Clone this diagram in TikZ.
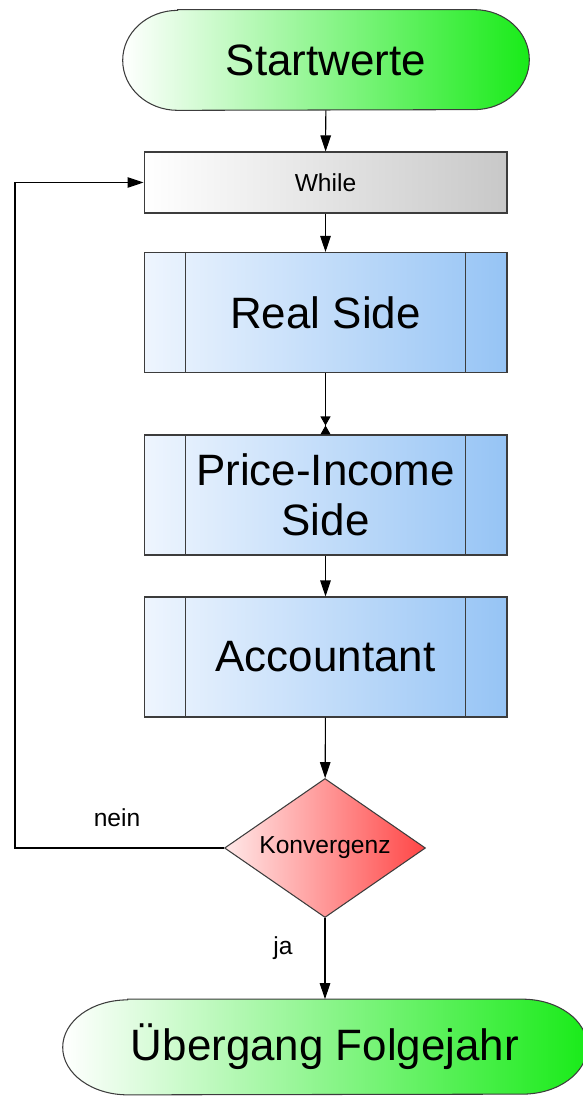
\documentclass[tikz,border=0pt]{standalone}
\usepackage{fontspec}
\setmainfont{Liberation Sans}
\usetikzlibrary{shapes.geometric,arrows.meta,backgrounds}

\definecolor{termgreen}{RGB}{25,235,25}
\definecolor{loopgray}{RGB}{200,200,200}
\definecolor{proclight}{RGB}{238,245,254}
\definecolor{procblue}{RGB}{150,196,245}
\definecolor{declight}{RGB}{255,232,232}
\definecolor{decred}{RGB}{255,70,70}
\definecolor{linegray}{RGB}{60,60,60}

\tikzset{
  flow/.style={line width=0.6pt,-{Triangle[length=0.32cm,width=0.21cm]}},
  term/.style={minimum width=8.12cm,minimum height=2cm,font=\fontsize{25}{28}\selectfont},
  termline/.style={draw=linegray,line width=0.6pt,left color=white,right color=termgreen},
  loopbox/.style={rectangle,draw=linegray,line width=0.6pt,minimum width=7.26cm,minimum height=1.22cm,
    left color=white,right color=loopgray,font=\fontsize{14}{16}\selectfont},
  process/.style={rectangle,draw=linegray,line width=0.6pt,minimum width=7.26cm,minimum height=2.4cm,
    left color=proclight,right color=procblue,align=center,font=\fontsize{25}{28.5}\selectfont},
  decision/.style={diamond,draw=linegray,line width=0.6pt,minimum width=4.02cm,minimum height=2.78cm,
    inner sep=0pt,aspect=1.45,left color=declight,right color=decred,font=\fontsize{14}{16}\selectfont},
  lbl/.style={font=\fontsize{14}{16}\selectfont}
}

\begin{document}
\begin{tikzpicture}[x=0.02cm,y=0.02cm]
	\useasboundingbox (0,0) rectangle (582,-1097);

	\node[term] (start) at (326,-60) {Startwerte};
	\node[loopbox] (while) at (325.5,-182.5) {While};
	\node[process] (real) at (325.5,-312.5) {Real Side};
	\node[process] (price) at (325.5,-495) {Price-Income\\Side};
	\node[process] (acct) at (325.5,-657) {Accountant};
	\node[decision] (konv) at (325,-848) {Konvergenz};
	\node[term,minimum width=10.48cm,minimum height=1.9cm] (end) at (325,-1047) {Übergang Folgejahr};

	\node[lbl] (nein) at (117,-818) {nein};
	\node[lbl] (ja) at (283,-948) {ja};

	% inner lines of the process boxes
	\foreach \n in {real,price,acct} {
		\draw[draw=linegray,line width=0.6pt] ([xshift=0.84cm]\n.north west) -- ([xshift=0.84cm]\n.south west);
		\draw[draw=linegray,line width=0.6pt] ([xshift=-0.84cm]\n.north east) -- ([xshift=-0.84cm]\n.south east);
	}

	% terminators
	\begin{scope}[on background layer]
		\shadedraw[termline] ([xshift=1.1cm]start.north west) -- ([xshift=-1.1cm]start.north east)
			arc[start angle=90,end angle=-90,x radius=1.1cm,y radius=1cm]
			-- ([xshift=1.1cm]start.south west)
			arc[start angle=270,end angle=90,x radius=1.1cm,y radius=1cm] -- cycle;
		\shadedraw[termline] ([xshift=1.3cm]end.north west) -- ([xshift=-1.3cm]end.north east)
			arc[start angle=90,end angle=-90,x radius=1.3cm,y radius=0.95cm]
			-- ([xshift=1.3cm]end.south west)
			arc[start angle=270,end angle=90,x radius=1.3cm,y radius=0.95cm] -- cycle;
	\end{scope}

	\draw[flow] (start) -- (while);
	\draw[flow] (while) -- (real);
	\draw[line width=0.6pt,-{Triangle[length=0.18cm,width=0.2cm] Triangle[length=0.18cm,width=0.2cm,reversed]}] (real) -- (price);
	\draw[flow] (price) -- (acct);
	\draw[flow] (acct) -- (konv);
	\draw[flow] (konv) -- (end);

	\coordinate (loop) at (15,0);
	\draw[flow] (konv.west) -- (konv.west -| loop) |- (while.west);
\end{tikzpicture}
\end{document}
